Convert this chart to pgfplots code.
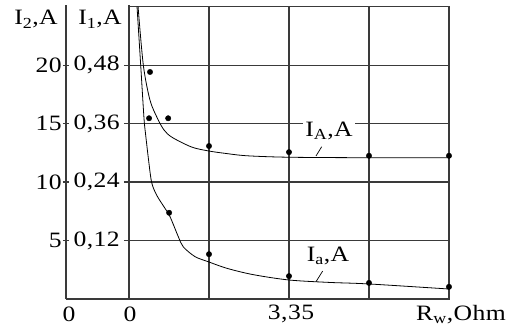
\documentclass[border=0pt]{standalone}
\usepackage{fontspec}
\setmainfont{Liberation Serif}
\usepackage{pgfplots}
\pgfplotsset{compat=1.18}
\definecolor{gridc}{HTML}{3A3A3A}
\newfontfamily\lblfont[FakeStretch=1.17, LetterSpace=2]{Liberation Serif}
\newcommand{\lbl}{\lblfont\fontsize{22}{26}\selectfont}
\begin{document}
\begin{tikzpicture}
\useasboundingbox (-129bp,-30bp) rectangle (378bp,299bp);
\begin{axis}[at={(0,0)}, anchor=south west, scale only axis,
  width=320bp, height=292.3bp,
  xmin=0, xmax=6.7, ymin=0, ymax=0.6,
  axis line style={gridc, line width=1.3bp},
  grid=major, grid style={gridc, line width=1.3bp},
  xtick={1.675,3.35,5.025}, xticklabels={},
  ytick={0.12,0.24,0.36,0.48}, yticklabels={},
  major tick length=0pt, tick style={draw=none},
  clip=true]
% I_A curve
\addplot[black, line width=0.8bp, smooth, tension=0.5] coordinates {
(0.19,0.60) (0.30,0.48) (0.44,0.408) (0.60,0.37) (0.733,0.347) (0.90,0.332)
(1.31,0.312) (1.66,0.304) (2.01,0.299) (2.47,0.294)
(3.35,0.291) (5.0,0.290) (6.7,0.290)};
% I_a curve
\addplot[black, line width=0.8bp, smooth, tension=0.5] coordinates {
(0.168,0.60) (0.245,0.48) (0.314,0.371) (0.35,0.336) (0.41,0.285) (0.475,0.239)
(0.58,0.213) (0.754,0.186) (0.859,0.169) (1.032,0.128) (1.137,0.107) (1.382,0.087)
(1.66,0.0765) (2.05,0.063) (2.6,0.050) (3.35,0.039) (4.2,0.034) (5.0,0.031) (6.7,0.0205)};
% I_A points
\addplot[only marks, mark=*, mark size=2.7bp, black] coordinates {
(0.44,0.466) (0.82,0.371) (1.675,0.314) (3.35,0.3015) (5.025,0.294) (6.7,0.294)};
% I_a points
\addplot[only marks, mark=*, mark size=2.7bp, black] coordinates {
(0.42,0.371) (0.84,0.177) (1.675,0.092) (3.35,0.047) (5.025,0.033) (6.7,0.025)};
\end{axis}
% outer axis
\draw[gridc, line width=1.3bp] (-63bp,0) -- (-63bp,294bp);
\draw[gridc, line width=1.3bp] (-63bp,0) -- (0,0);
\draw[gridc, line width=1.3bp] (0,0) -- (0,294bp);
\foreach \yy/\a/\b in {58.46/5/{0,12}, 116.92/10/{0,24}, 175.38/15/{0,36}, 233.84/20/{0,48}} {
  \draw[gridc, line width=1.3bp] (-66bp,\yy bp) -- (-60bp,\yy bp);
  \draw[gridc, line width=1.3bp] (-5bp,\yy bp) -- (0,\yy bp);
  \node[anchor=east, inner sep=0pt, font=\lbl] at (-67bp,\yy bp) {\a};
  \node[anchor=east, inner sep=0pt, font=\lbl] at (-9bp,\yy bp) {\b};
}
\node[anchor=base, inner sep=0pt, font=\lbl] at (-93bp,274bp) {I\textsubscript{2},A};
\node[anchor=base, inner sep=0pt, font=\lbl] at (-29bp,274bp) {I\textsubscript{1},A};
\node[anchor=base, inner sep=0pt, font=\lbl] at (-60bp,-22bp) {0};
\node[anchor=base, inner sep=0pt, font=\lbl] at (1bp,-22bp) {0};
\node[anchor=base, inner sep=0pt, font=\lbl] at (162bp,-20bp) {3,35};
\node[anchor=base, inner sep=0pt, font=\lbl] at (332bp,-21bp) {R\textsubscript{w},Ohm};
\node[anchor=base, inner sep=2pt, fill=white, font=\lbl] at (200bp,162.3bp) {I\textsubscript{A},A};
\node[anchor=base, inner sep=0pt, font=\lbl] at (199bp,37.3bp) {I\textsubscript{a},A};
\draw[black, line width=0.7bp] (187bp,143bp) -- (192.7bp,152.3bp);
\draw[black, line width=0.7bp] (187bp,17.3bp) -- (193.7bp,28bp);
\end{tikzpicture}
\end{document}
